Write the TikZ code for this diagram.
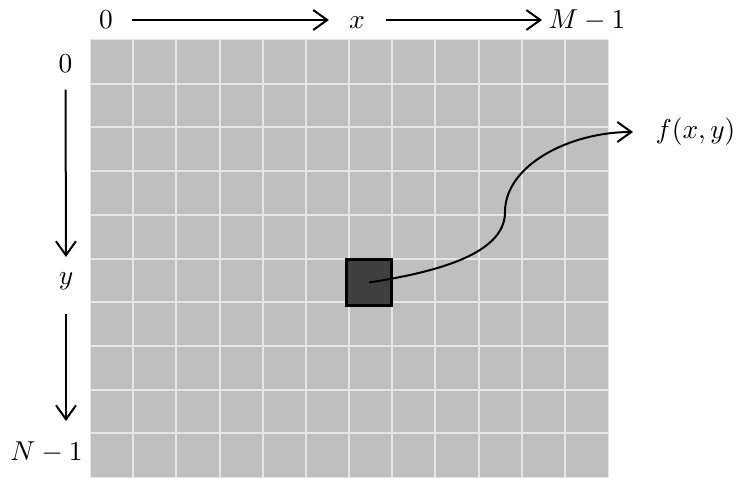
\documentclass[tikz,border=0pt]{standalone}
\usepackage{xcolor}
\usepackage{tikz}
\usetikzlibrary{positioning,arrows.meta}
\definecolor{imgcell}{HTML}{BFBFBF}
\definecolor{imggap}{HTML}{E6E6E6}
\definecolor{imgdark}{HTML}{404040}
\tikzset{
    imglabel/.style={inner sep=1pt, font=\fontsize{11}{13}\selectfont},
    imgtoplabel/.style={imglabel, text height=7.1pt, text depth=0pt},
    imgarrow/.style={draw, -{Straight Barb[length=5.6pt,width=8pt]}, line width=0.8pt},
    imggrid/.style={draw=imggap, line width=0.8pt},
    imgpixel/.style={draw, line width=1.2pt, fill=imgdark, minimum width=18pt, minimum height=18.4pt, inner sep=0pt}
}
\begin{document}
\begin{tikzpicture}[x=0.4pt, y=-0.4pt]
    \useasboundingbox (0,0) rectangle (737,479);
    \fill[imgcell] (90,40) rectangle (608,477);
    \foreach \i in {1,...,11}
        \draw[imggrid] ({90+\i*43.17},40) -- ({90+\i*43.17},477);
    \foreach \j in {1,...,9}
        \draw[imggrid] (90,{40+\j*43.7}) -- (608,{40+\j*43.7});
    \draw[draw=imggap, line width=0.4pt] (90,40) rectangle (608,477);

    \node[imgtoplabel] (x0) at (106,20) {$0$};
    \node[imgtoplabel] (xmid) at (357,20) {$x$};
    \node[imgtoplabel, anchor=west] (xmax) at (545.5,20) {$M-1$};
    \node[imglabel] (y0) at (65.5,63.3) {$0$};
    \node[imglabel] (ymid) at (66,281) {$y$};
    \node[imglabel] (ymax) at (46.5,452) {$N-1$};

    \draw[imgarrow, shorten <=6.6pt, shorten >=6.9pt] (x0.east) -- (xmid.west);
    \draw[imgarrow, shorten <=7.3pt, shorten >=1.4pt] (xmid.east) -- (xmax.west);
    \draw[imgarrow, shorten <=5.8pt, shorten >=5pt] (y0.south) -- (ymid.north);
    \draw[imgarrow, shorten <=8.5pt, shorten >=7pt] (ymid.south) -- (ymid.south |- ymax.north);

    \node[imgpixel] (pix) at (369,282.5) {};
    \coordinate (ftip) at (633,132);
    \node[imglabel, right=7.8pt of ftip] (fxy) {$f(x,y)$};
    \draw[imgarrow] (pix.center) .. controls (450,270) and (505,250) .. (505,212)
        .. controls (505,165) and (570,132) .. (ftip);
\end{tikzpicture}
\end{document}
